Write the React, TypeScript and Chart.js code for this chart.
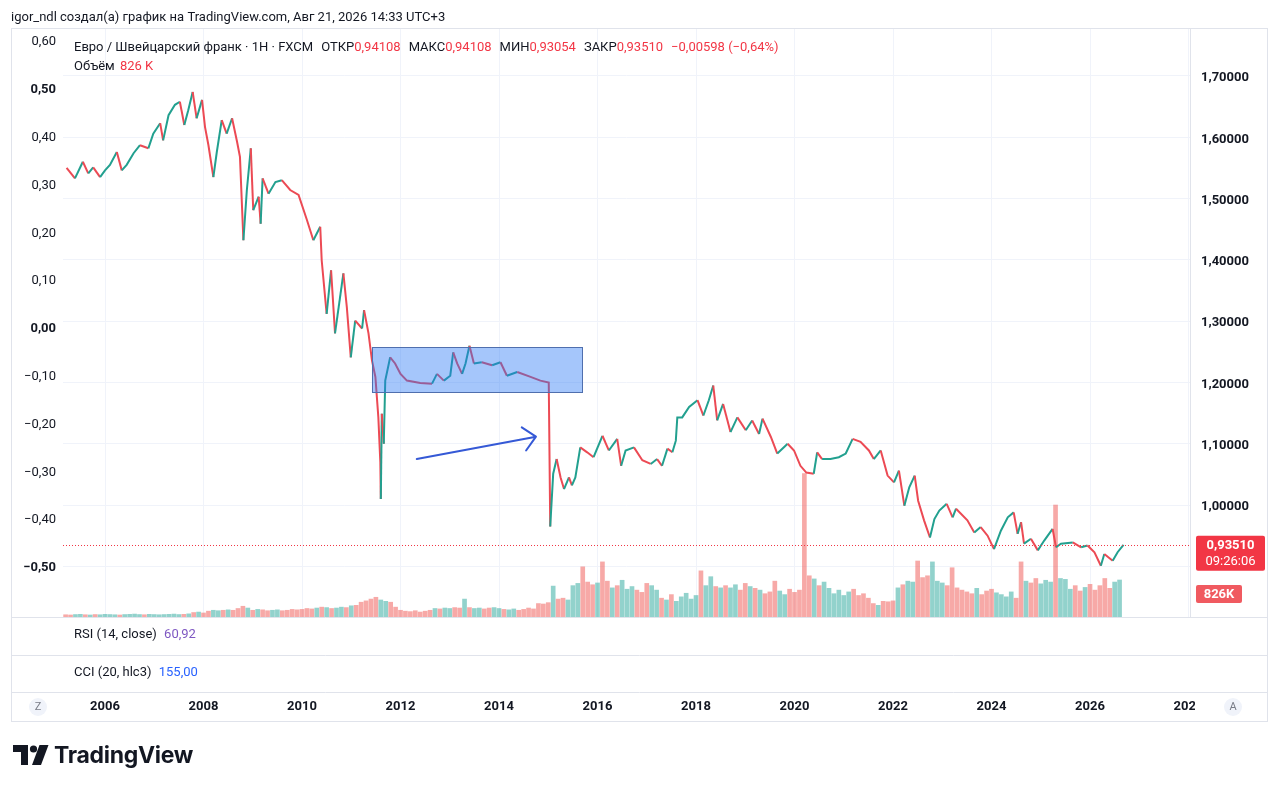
import React, { useEffect, useRef } from "react";
import { Chart, registerables } from "chart.js";

Chart.register(...registerables);

const FONT = "Roboto, 'Liberation Sans', sans-serif";
const TEXT = "#131722";
const UP = "#22a08f";
const DOWN = "#ec4a54";
const UP_VOL = "rgba(38,166,154,0.5)";
const DOWN_VOL = "rgba(239,83,80,0.5)";

// EUR/CHF price path (years, close)
const priceYears = [
  2005.22, 2005.39, 2005.55, 2005.66, 2005.76, 2005.9, 2006.0, 2006.1, 2006.24, 2006.34,
  2006.44, 2006.58, 2006.71, 2006.88, 2006.98, 2007.12, 2007.18, 2007.29, 2007.42, 2007.52,
  2007.61, 2007.69, 2007.78, 2007.86, 2007.97, 2008.03, 2008.1, 2008.2, 2008.27, 2008.37,
  2008.47, 2008.58, 2008.68, 2008.74, 2008.81, 2008.88, 2008.96, 2009.01, 2009.12, 2009.16,
  2009.2, 2009.32, 2009.46, 2009.59, 2009.76, 2009.93, 2010.1, 2010.23, 2010.37, 2010.4,
  2010.5, 2010.59, 2010.67, 2010.84, 2010.91, 2010.99, 2011.08, 2011.22, 2011.26, 2011.35,
  2011.42, 2011.49, 2011.55, 2011.59, 2011.6, 2011.62, 2011.66, 2011.69, 2011.79, 2011.89,
  2012.0, 2012.13, 2012.4, 2012.64, 2012.74, 2012.88, 2013.01, 2013.07, 2013.15, 2013.25,
  2013.32, 2013.4, 2013.49, 2013.65, 2013.86, 2014.03, 2014.16, 2014.37, 2014.64, 2014.84,
  2015.01, 2015.04, 2015.1, 2015.17, 2015.25, 2015.32, 2015.42, 2015.48, 2015.55, 2015.65,
  2015.79, 2015.92, 2016.1, 2016.23, 2016.4, 2016.48, 2016.57, 2016.74, 2016.91, 2017.08,
  2017.21, 2017.31, 2017.42, 2017.52, 2017.59, 2017.62, 2017.72, 2017.86, 2018.03, 2018.15,
  2018.26, 2018.35, 2018.43, 2018.55, 2018.7, 2018.84, 2019.01, 2019.14, 2019.28, 2019.35,
  2019.52, 2019.65, 2019.86, 2019.99, 2020.12, 2020.24, 2020.39, 2020.46, 2020.56, 2020.73,
  2020.9, 2021.04, 2021.18, 2021.34, 2021.51, 2021.61, 2021.75, 2021.89, 2022.02, 2022.12,
  2022.23, 2022.33, 2022.44, 2022.51, 2022.63, 2022.75, 2022.84, 2022.94, 2023.09, 2023.21,
  2023.28, 2023.51, 2023.65, 2023.78, 2023.92, 2024.05, 2024.19, 2024.33, 2024.45, 2024.53,
  2024.6, 2024.66, 2024.8, 2024.94, 2025.07, 2025.24, 2025.31, 2025.41, 2025.65, 2025.82,
  2025.95, 2026.09, 2026.22, 2026.29, 2026.46, 2026.56, 2026.68,
];
const prices = [
  1.55, 1.533, 1.56, 1.541, 1.551, 1.535, 1.546, 1.555, 1.576, 1.546,
  1.555, 1.574, 1.587, 1.582, 1.606, 1.623, 1.595, 1.636, 1.653, 1.658,
  1.62, 1.644, 1.674, 1.631, 1.661, 1.617, 1.587, 1.535, 1.576, 1.628,
  1.606, 1.631, 1.593, 1.568, 1.432, 1.514, 1.582, 1.481, 1.503, 1.459,
  1.533, 1.508, 1.527, 1.53, 1.514, 1.506, 1.465, 1.432, 1.454, 1.399,
  1.312, 1.383, 1.28, 1.378, 1.323, 1.241, 1.301, 1.288, 1.318, 1.28,
  1.236, 1.209, 1.143, 1.07, 1.01, 1.149, 1.1, 1.203, 1.241, 1.231,
  1.214, 1.203, 1.199, 1.198, 1.214, 1.203, 1.211, 1.249, 1.231, 1.214,
  1.231, 1.26, 1.231, 1.233, 1.228, 1.233, 1.211, 1.217, 1.209, 1.203,
  1.2, 0.965, 1.051, 1.075, 1.045, 1.026, 1.045, 1.032, 1.045, 1.094,
  1.086, 1.078, 1.113, 1.089, 1.108, 1.064, 1.089, 1.094, 1.073, 1.067,
  1.075, 1.064, 1.092, 1.086, 1.105, 1.143, 1.143, 1.16, 1.171, 1.146,
  1.171, 1.195, 1.138, 1.165, 1.119, 1.143, 1.122, 1.138, 1.116, 1.141,
  1.111, 1.084, 1.1, 1.089, 1.064, 1.053, 1.051, 1.086, 1.075, 1.075,
  1.078, 1.084, 1.108, 1.103, 1.089, 1.075, 1.089, 1.048, 1.037, 1.056,
  0.999, 1.029, 1.048, 1.007, 0.975, 0.947, 0.977, 0.991, 1.002, 0.98,
  0.994, 0.975, 0.955, 0.964, 0.95, 0.928, 0.958, 0.98, 0.988, 0.953,
  0.972, 0.937, 0.945, 0.926, 0.942, 0.961, 0.931, 0.937, 0.939, 0.931,
  0.934, 0.923, 0.901, 0.92, 0.909, 0.923, 0.9351,
];

// volume (K), one bar every 0.1 year from 2005.2
const volStart = 2005.2;
const volStep = 0.1;
const volumes = [
  50, 45, 55, 60, 50, 45, 55, 50, 60, 55,
  50, 45, 55, 60, 65, 55, 50, 60, 55, 50,
  55, 60, 65, 55, 60, 70, 100, 110, 90, 130,
  150, 140, 150, 160, 150, 190, 240, 200, 150, 170,
  160, 140, 150, 160, 140, 150, 170, 160, 170, 190,
  180, 200, 220, 210, 190, 200, 220, 210, 250, 260,
  330, 360, 400, 440, 380, 350, 330, 220, 150, 130,
  120, 140, 110, 130, 150, 190, 180, 200, 190, 210,
  200, 400, 210, 190, 200, 180, 200, 210, 190, 170,
  160, 180, 150, 170, 200, 180, 300, 290, 320, 690,
  400, 420, 380, 700, 750, 1120, 780, 720, 760, 1230,
  800, 650, 700, 820, 620, 680, 600, 550, 750, 700,
  600, 420, 380, 500, 350, 450, 530, 400, 480, 1030,
  700, 900, 680, 650, 700, 650, 720, 600, 750, 680,
  640, 600, 520, 560, 800, 580, 500, 620, 550, 600,
  3200, 920, 850, 700, 780, 640, 520, 600, 480, 560,
  620, 480, 520, 420, 300, 260, 350, 340, 360, 650,
  720, 800, 780, 1250, 880, 920, 1230, 800, 760, 700,
  1100, 650, 600, 560, 520, 640, 500, 580, 620, 540,
  500, 450, 560, 420, 1230, 800, 760, 860, 740, 820,
  780, 2500, 860, 840, 620, 700, 580, 660, 730, 600,
  700, 860, 640, 780, 826,
];

const xTicks = [2006, 2008, 2010, 2012, 2014, 2016, 2018, 2020, 2022, 2024, 2026, 2028];
const priceTicks = [0.9, 1.0, 1.1, 1.2, 1.3, 1.4, 1.5, 1.6, 1.7];
const leftTicks = [-0.5, -0.4, -0.3, -0.2, -0.1, 0, 0.1, 0.2, 0.3, 0.4, 0.5, 0.6];
const boldLeftTicks = [0.5, 0, -0.5];
const lastPrice = 0.9351;

// drawings (data units)
const zoneBox = { x0: 2011.42, x1: 2015.69, yTop: 1.2578, yBottom: 1.1844 };
const arrowStart = { x: 2012.33, y: 1.0751 };
const arrowEnd = { x: 2014.75, y: 1.1115 };

const X_MIN = 2005.147;
const X_MAX = 2028.03;
const Y_MIN = 0.8173;
const Y_MAX = 1.7783;
const L_MIN = -0.6067;
const L_MAX = 0.6251;

const fmt = (v: number, d: number) => {
  const s = Math.abs(v).toFixed(d).replace(".", ",");
  return v < -1e-9 ? "\u2212" + s : s;
};

function roundRect(ctx: CanvasRenderingContext2D, x: number, y: number, w: number, h: number, r: number) {
  ctx.beginPath();
  ctx.moveTo(x + r, y);
  ctx.lineTo(x + w - r, y);
  ctx.quadraticCurveTo(x + w, y, x + w, y + r);
  ctx.lineTo(x + w, y + h - r);
  ctx.quadraticCurveTo(x + w, y + h, x + w - r, y + h);
  ctx.lineTo(x + r, y + h);
  ctx.quadraticCurveTo(x, y + h, x, y + h - r);
  ctx.lineTo(x, y + r);
  ctx.quadraticCurveTo(x, y, x + r, y);
  ctx.closePath();
}

const decor = {
  id: "decor",
  beforeDraw(chart: any) {
    const ctx = chart.ctx as CanvasRenderingContext2D;
    ctx.save();
    ctx.fillStyle = "#ffffff";
    ctx.fillRect(0, 0, chart.width, chart.height);
    ctx.restore();
  },
  afterDatasetsDraw(chart: any) {
    const ctx = chart.ctx as CanvasRenderingContext2D;
    const xs = chart.scales.x;
    const ys = chart.scales.y;
    const x0 = xs.getPixelForValue(zoneBox.x0);
    const x1 = xs.getPixelForValue(zoneBox.x1);
    const y0 = ys.getPixelForValue(zoneBox.yTop);
    const y1 = ys.getPixelForValue(zoneBox.yBottom);
    ctx.save();
    ctx.fillStyle = "rgba(41,118,245,0.42)";
    ctx.fillRect(x0, y0, x1 - x0, y1 - y0);
    ctx.strokeStyle = "#4f6fae";
    ctx.lineWidth = 1;
    ctx.strokeRect(Math.round(x0) + 0.5, Math.round(y0) + 0.5, Math.round(x1 - x0), Math.round(y1 - y0));

    // dotted last price line
    const ca = chart.chartArea;
    const yp = Math.round(ys.getPixelForValue(lastPrice)) + 0.5;
    ctx.strokeStyle = "#f23645";
    ctx.setLineDash([1, 2]);
    ctx.beginPath();
    ctx.moveTo(ca.left, yp);
    ctx.lineTo(ca.right, yp);
    ctx.stroke();
    ctx.setLineDash([]);

    // arrow
    const ax0 = xs.getPixelForValue(arrowStart.x);
    const ay0 = ys.getPixelForValue(arrowStart.y);
    const ax1 = xs.getPixelForValue(arrowEnd.x);
    const ay1 = ys.getPixelForValue(arrowEnd.y);
    const ang = Math.atan2(ay1 - ay0, ax1 - ax0);
    const head = 17;
    const spread = (44 * Math.PI) / 180;
    ctx.strokeStyle = "#3559d6";
    ctx.lineWidth = 2;
    ctx.lineCap = "round";
    ctx.lineJoin = "round";
    ctx.beginPath();
    ctx.moveTo(ax0, ay0);
    ctx.lineTo(ax1, ay1);
    ctx.moveTo(ax1 - head * Math.cos(ang - spread), ay1 - head * Math.sin(ang - spread));
    ctx.lineTo(ax1, ay1);
    ctx.lineTo(ax1 - head * Math.cos(ang + spread), ay1 - head * Math.sin(ang + spread));
    ctx.stroke();
    ctx.restore();
  },
  afterDraw(chart: any) {
    const ctx = chart.ctx as CanvasRenderingContext2D;
    const ys = chart.scales.y;
    const ca = chart.chartArea;
    const L = 11.5;
    const R = 1267.5;
    ctx.save();
    // hide clipped part of the last time label
    ctx.fillStyle = "#ffffff";
    ctx.fillRect(1195, 693, 72, 28);

    // frame and pane separators
    ctx.strokeStyle = "#e0e3eb";
    ctx.lineWidth = 1;
    ctx.strokeRect(L, 28.5, R - L, 721.5 - 28.5);
    ctx.beginPath();
    [Math.round(ca.bottom) + 0.5, 655.5, 692.5].forEach((y) => {
      ctx.moveTo(L, y);
      ctx.lineTo(R, y);
    });
    ctx.stroke();

    // Z / A buttons
    const circ = (cx: number, label: string) => {
      ctx.fillStyle = "#f0f3fa";
      ctx.beginPath();
      ctx.arc(cx, 707, 9, 0, Math.PI * 2);
      ctx.fill();
      ctx.fillStyle = "#787b86";
      ctx.font = `11px ${FONT}`;
      ctx.textAlign = "center";
      ctx.textBaseline = "middle";
      ctx.fillText(label, cx, 707.5);
    };
    circ(38, "Z");
    circ(1233, "A");

    // last price label
    const yp = ys.getPixelForValue(lastPrice);
    ctx.fillStyle = "#f23645";
    roundRect(ctx, 1196, yp - 9, 69, 35, 2);
    ctx.fill();
    ctx.fillStyle = "#ffffff";
    ctx.textAlign = "center";
    ctx.textBaseline = "middle";
    ctx.font = `bold 13px ${FONT}`;
    ctx.fillText(fmt(lastPrice, 5), 1230.5, yp + 1);
    ctx.font = `13px ${FONT}`;
    ctx.fillText("09:26:06", 1230.5, yp + 17);

    // volume label
    ctx.fillStyle = "#f05a60";
    roundRect(ctx, 1196, 585, 46, 18, 2);
    ctx.fill();
    ctx.fillStyle = "#ffffff";
    ctx.font = `bold 13px ${FONT}`;
    ctx.fillText("826K", 1219, 594.5);
    ctx.restore();
  },
};

export default function App() {
  const ref = useRef<HTMLCanvasElement | null>(null);

  useEffect(() => {
    const canvas = ref.current;
    if (!canvas) return;
    const priceData = priceYears.map((x, i) => ({ x, y: prices[i] }));
    const volData = volumes.map((v, i) => ({ x: Math.round((volStart + i * volStep) * 100) / 100, y: v }));
    const volColors = volData.map((d) => {
      let i = 0;
      while (i < priceYears.length - 2 && priceYears[i + 1] <= d.x) i++;
      return prices[i + 1] >= prices[i] ? UP_VOL : DOWN_VOL;
    });

    const chart = new Chart(canvas, {
      type: "line",
      data: {
        datasets: [
          {
            type: "line",
            data: priceData,
            xAxisID: "x",
            yAxisID: "y",
            borderWidth: 2,
            borderColor: UP,
            pointRadius: 0,
            tension: 0,
            order: 0,
            segment: {
              borderColor: (c: any) => (c.p1.parsed.y >= c.p0.parsed.y ? UP : DOWN),
            },
          } as any,
          {
            type: "bar",
            data: volData,
            xAxisID: "x",
            yAxisID: "vol",
            backgroundColor: volColors,
            barThickness: 4,
            order: 1,
          } as any,
        ],
      },
      options: {
        responsive: false,
        animation: false,
        layout: { padding: { left: 11, right: 12, top: 28, bottom: 68 } },
        plugins: { legend: { display: false }, tooltip: { enabled: false } },
        scales: {
          x: {
            type: "linear",
            min: X_MIN,
            max: X_MAX,
            offset: false,
            position: "bottom",
            grid: { color: "#f0f3fa", drawTicks: false, offset: false },
            border: { display: false },
            ticks: {
              padding: 82,
              maxRotation: 0,
              autoSkip: false,
              color: TEXT,
              font: { family: FONT, size: 13, weight: "bold" },
              callback: (v: any) => String(v),
            },
            afterBuildTicks: (s: any) => {
              s.ticks = xTicks.map((v) => ({ value: v }));
            },
            afterFit: (s: any) => {
              s.height = 105;
              s.paddingLeft = 0;
              s.paddingRight = 0;
            },
          },
          y: {
            type: "linear",
            position: "right",
            min: Y_MIN,
            max: Y_MAX,
            grid: { color: "#f0f3fa", drawTicks: false },
            border: { display: true, color: "#e0e3eb" },
            ticks: {
              padding: 11,
              labelOffset: 2,
              color: TEXT,
              font: { family: FONT, size: 13, weight: "bold" },
              // labels hidden where the last-price badge sits over them
              callback: (v: any) => (Math.abs(Number(v) - lastPrice) < 0.045 ? "" : fmt(Number(v), 5)),
            },
            afterBuildTicks: (s: any) => {
              s.ticks = priceTicks.map((v) => ({ value: v }));
            },
            afterFit: (s: any) => {
              s.width = 78;
              s.paddingTop = 0;
              s.paddingBottom = 0;
            },
          },
          yl: {
            type: "linear",
            position: "left",
            min: L_MIN,
            max: L_MAX,
            grid: { display: false, drawTicks: false },
            border: { display: false },
            ticks: {
              padding: 7,
              labelOffset: 2,
              color: TEXT,
              font: (c: any) => ({
                family: FONT,
                size: 13,
                weight: c.tick && boldLeftTicks.some((b) => Math.abs(b - c.tick.value) < 1e-6) ? "bold" : "normal",
              }),
              callback: (v: any) => fmt(Number(v), 2),
            },
            afterBuildTicks: (s: any) => {
              s.ticks = leftTicks.map((v) => ({ value: v }));
            },
            afterFit: (s: any) => {
              s.width = 52;
              s.paddingTop = 0;
              s.paddingBottom = 0;
            },
          },
          vol: {
            type: "linear",
            display: false,
            min: 0,
            max: 13150,
          },
        },
      } as any,
      plugins: [decor as any],
    });
    return () => chart.destroy();
  }, []);

  const red = "#f23645";
  const abs = (left: number, top: number): React.CSSProperties => ({
    position: "absolute",
    left,
    top,
    whiteSpace: "nowrap",
    lineHeight: "16px",
  });

  return (
    <div
      style={{
        position: "absolute",
        left: 0,
        top: 0,
        width: 1280,
        height: 790,
        background: "#ffffff",
        fontFamily: FONT,
        fontSize: 13,
        color: TEXT,
        overflow: "hidden",
      }}
    >
      <canvas ref={ref} width={1280} height={790} style={{ position: "absolute", left: 0, top: 0 }} />
      <div style={abs(11, 9)}>igor_ndl создал(а) график на TradingView.com, Авг 21, 2026 14:33 UTC+3</div>
      <div style={{ ...abs(74, 39), display: "flex", gap: 8 }}>
        <span>Евро / Швейцарский франк · 1H · FXCM</span>
        <span>
          ОТКР<span style={{ color: red }}>0,94108</span>
        </span>
        <span>
          МАКС<span style={{ color: red }}>0,94108</span>
        </span>
        <span>
          МИН<span style={{ color: red }}>0,93054</span>
        </span>
        <span>
          ЗАКР<span style={{ color: red }}>0,93510</span>
        </span>
        <span style={{ color: red }}>−0,00598 (−0,64%)</span>
      </div>
      <div style={abs(74, 58)}>
        Объём <span style={{ color: red, marginLeft: 2 }}>826 K</span>
      </div>
      <div style={abs(74, 626)}>
        RSI (14, close) <span style={{ color: "#7e57c2", marginLeft: 4 }}>60,92</span>
      </div>
      <div style={abs(74, 664)}>
        CCI (20, hlc3) <span style={{ color: "#2962ff", marginLeft: 4 }}>155,00</span>
      </div>
      <svg width={200} height={34} style={{ position: "absolute", left: 0, top: 740 }} viewBox="0 740 200 34">
        <path d="M13 745 H28 V765 H21 V752 H13 Z" fill={TEXT} />
        <circle cx={33.5} cy={749} r={3.6} fill={TEXT} />
        <path d="M39.5 745 H48.5 L41 765 H32 Z" fill={TEXT} />
      </svg>
      <div
        style={{
          position: "absolute",
          left: 54,
          top: 741,
          fontFamily: "Inter, Roboto, sans-serif",
          fontWeight: 700,
          fontSize: 23,
          lineHeight: "28px",
          letterSpacing: -0.3,
          color: TEXT,
        }}
      >
        TradingView
      </div>
    </div>
  );
}
